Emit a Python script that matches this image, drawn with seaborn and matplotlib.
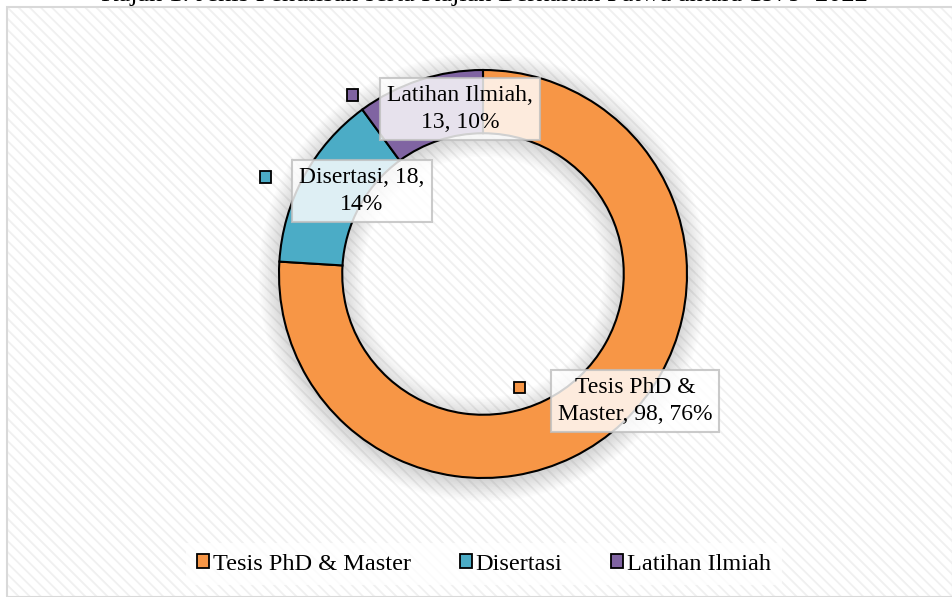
import numpy as np
import matplotlib
matplotlib.use("Agg")
import matplotlib.pyplot as plt
from matplotlib.patches import Rectangle, Wedge, Patch
import seaborn as sns

# data
categories = ["Tesis PhD & Master", "Disertasi", "Latihan Ilmiah"]
counts = [98, 18, 13]
label_lines = [["Tesis PhD &", "Master, {n}, {p}%"],
               ["Disertasi, {n},", "{p}%"],
               ["Latihan Ilmiah,", "{n}, {p}%"]]
title = "Rajah 1: Jenis Penulisan serta Kajian Berkaitan Fatwa antara 1979\u20132022"

sns.set_theme(style="white")
plt.rcParams["font.family"] = ["Liberation Serif", "DejaVu Serif"]
plt.rcParams["text.color"] = "black"
plt.rcParams["hatch.linewidth"] = 1.3
colors = sns.color_palette(["#F79646", "#4BACC6", "#8064A2"])

W, H = 953, 597
fig = plt.figure(figsize=(W / 100, H / 100), dpi=100)


def fx(px):
    return px / W


def fy(py):
    # py measured from the top of the image
    return 1 - py / H


# chart area: hatched background and light border
fig.add_artist(Rectangle((fx(7), 0), fx(946), fy(7), transform=fig.transFigure,
                         facecolor="white", edgecolor="#F0F0F0", lw=0,
                         hatch="\\" * 3, zorder=0))
fig.add_artist(Rectangle((fx(7), 0), fx(946), fy(7), transform=fig.transFigure,
                         facecolor="none", edgecolor="#D9D9D9", lw=1.5, zorder=1))

fig.text(fx(484), fy(1.5), title, ha="center", va="baseline", fontsize=19)

# donut axes (centre 483,274 ; outer radius 204 px)
cx, cy, R = 483, 274, 204
lim = 1.25
ax = fig.add_axes([fx(cx - R * lim), fy(cy + R * lim), fx(2 * R * lim), 2 * R * lim / H])
ax.set_xlim(-lim, lim)
ax.set_ylim(-lim, lim)
ax.set_aspect("equal")
ax.axis("off")
ax.patch.set_alpha(0)

ring = 0.31
# soft shadow around the ring
for d in np.linspace(0.0, 0.1, 14):
    ax.add_patch(Wedge((0.0, -0.015), 1 + d, 0, 360, width=ring + 2 * d,
                       facecolor="#808080", alpha=0.025, lw=0, zorder=1))

wedges, _ = ax.pie(counts, colors=colors, startangle=90, counterclock=False,
                   wedgeprops=dict(width=ring, edgecolor="black", linewidth=1.5))
for w in wedges:
    w.set_zorder(3)

total = sum(counts)
pcts = [round(100 * c / total) for c in counts]

# data labels with legend key squares
label_pos = [(635, 401), (362, 191), (460, 109)]
key_pos = [(520, 387), (265, 177), (352, 95)]
for i in range(len(categories)):
    txt = "\n".join(label_lines[i]).format(n=counts[i], p=pcts[i])
    lx, ly = label_pos[i]
    fig.text(fx(lx), fy(ly), txt, ha="center", va="center", fontsize=17,
             linespacing=1.35, zorder=5,
             bbox=dict(boxstyle="square,pad=0.3", facecolor="white", alpha=0.82,
                       edgecolor="#BFBFBF", lw=1.5))
    kx, ky = key_pos[i]
    fig.add_artist(Rectangle((fx(kx - 5.5), fy(ky + 5.5)), fx(11), 11 / H,
                             transform=fig.transFigure, facecolor=colors[i],
                             edgecolor="black", lw=1.3, zorder=6))

handles = [Patch(facecolor=colors[i], edgecolor="black", lw=1.3) for i in range(3)]
leg = fig.legend(handles, categories, loc="center", bbox_to_anchor=(fx(484), fy(564)),
                 ncol=3, fontsize=17.5, frameon=True, handlelength=0.5, handleheight=0.5,
                 handletextpad=0.15, columnspacing=2.0, borderpad=0.45,
                 fancybox=False)
leg.get_frame().set_facecolor("white")
leg.get_frame().set_alpha(0.8)
leg.get_frame().set_edgecolor("none")

fig.savefig("out.png", dpi=100)
